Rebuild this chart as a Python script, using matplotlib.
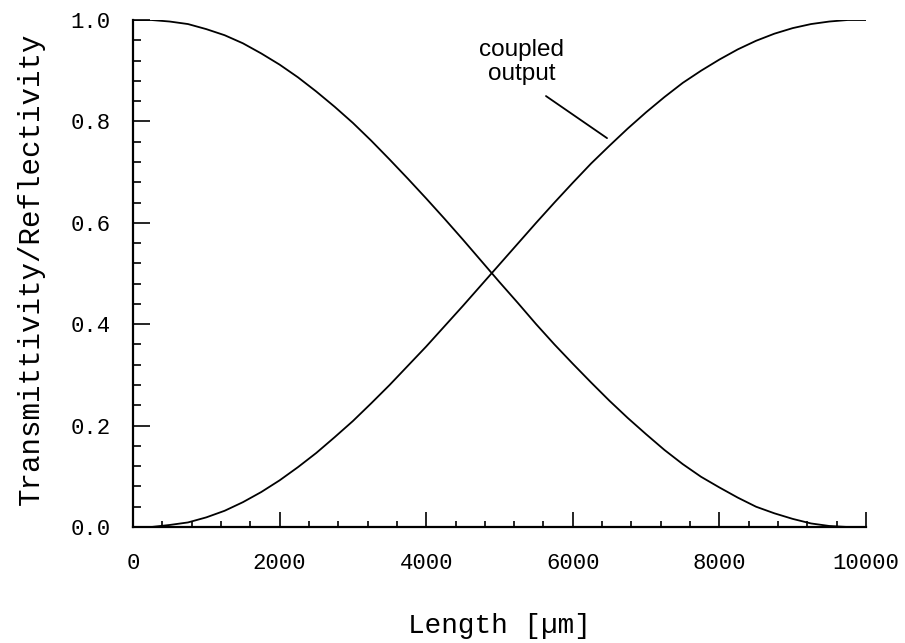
import matplotlib
matplotlib.use('Agg')
import matplotlib.pyplot as plt
from matplotlib.ticker import MultipleLocator

# values
length_um = [0, 250, 500, 750, 1000, 1250, 1500, 1750, 2000, 2250, 2500,
             2750, 3000, 3250, 3500, 3750, 4000, 4250, 4500, 4750, 5000,
             5250, 5500, 5750, 6000, 6250, 6500, 6750, 7000, 7250, 7500,
             7750, 8000, 8250, 8500, 8750, 9000, 9250, 9500, 9750, 10000]
reflectivity = [1.0, 1.0, 0.997, 0.992, 0.982, 0.970, 0.954, 0.934, 0.912, 0.887, 0.859,
                0.829, 0.797, 0.762, 0.725, 0.687, 0.648, 0.608, 0.567, 0.525, 0.483,
                0.442, 0.400, 0.360, 0.322, 0.285, 0.249, 0.215, 0.183, 0.152, 0.124,
                0.099, 0.078, 0.058, 0.040, 0.027, 0.016, 0.007, 0.002, 0.0, 0.0]
coupled = [0.0, 0.0, 0.004, 0.009, 0.019, 0.032, 0.049, 0.069, 0.092, 0.118, 0.146,
           0.177, 0.209, 0.244, 0.280, 0.318, 0.356, 0.396, 0.436, 0.477, 0.518,
           0.559, 0.600, 0.640, 0.679, 0.717, 0.752, 0.786, 0.818, 0.848, 0.876,
           0.900, 0.922, 0.942, 0.959, 0.973, 0.984, 0.992, 0.997, 1.0, 1.0]
xticks = [0, 2000, 4000, 6000, 8000, 10000]
yticks = [0.0, 0.2, 0.4, 0.6, 0.8, 1.0]

mono = 'Liberation Mono'

fig = plt.figure(figsize=(9.05, 6.43), dpi=100)
ax = fig.add_axes([133 / 905, 1 - 527 / 643, 733 / 905, 507 / 643])

ax.plot(length_um, reflectivity, color='black', lw=1.3, solid_joinstyle='round')
ax.plot(length_um, coupled, color='black', lw=1.3, solid_joinstyle='round')

ax.set_xlim(0, 10000)
ax.set_ylim(0, 1.0)
ax.spines['top'].set_visible(False)
ax.spines['right'].set_visible(False)
ax.spines['left'].set_linewidth(1.6)
ax.spines['bottom'].set_linewidth(1.6)

ax.set_xticks(xticks)
ax.set_xticklabels([str(v) for v in xticks], fontfamily=mono, fontsize=16)
ax.set_yticks(yticks)
ax.set_yticklabels(['%.1f' % v for v in yticks], fontfamily=mono, fontsize=16)
ax.xaxis.set_minor_locator(MultipleLocator(400))
ax.yaxis.set_minor_locator(MultipleLocator(0.04))

ax.tick_params(axis='x', which='major', direction='in', length=11, width=1.2, pad=19)
ax.tick_params(axis='x', which='minor', direction='in', length=4, width=1.2)
ax.tick_params(axis='y', which='major', direction='in', length=12, width=1.2, pad=16)
ax.tick_params(axis='y', which='minor', direction='in', length=6, width=1.2)

ax.set_xlabel('Length [\u00b5m]', fontfamily=mono, fontsize=20)
ax.set_ylabel('Transmittivity/Reflectivity', fontfamily=mono, fontsize=21)
ax.xaxis.set_label_coords(0.5, -0.17)
ax.yaxis.set_label_coords(-0.12, 0.51)

# label and its leader line
ax.text(5300, 0.917, 'coupled\noutput', ha='center', va='center',
        multialignment='center', fontsize=17.5, fontfamily='Liberation Sans',
        linespacing=1.15)
ax.annotate('', xy=(6467, 0.767), xytext=(5634, 0.850),
            arrowprops=dict(arrowstyle='-', color='black', lw=1.3,
                            shrinkA=0, shrinkB=0))

fig.savefig('out.png', dpi=100)
